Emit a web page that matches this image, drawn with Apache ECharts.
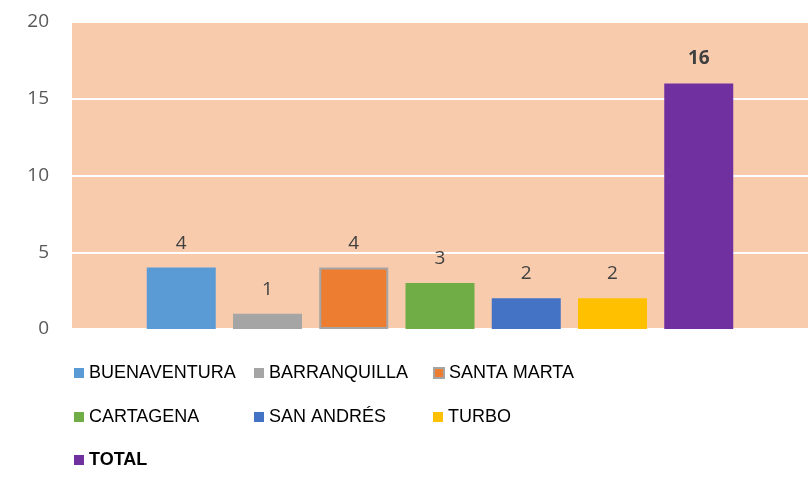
<!DOCTYPE html>
<html>
<head>
<meta charset="utf-8">
<script src="https://cdn.jsdelivr.net/npm/echarts@6/dist/echarts.min.js"></script>
<style>
  html, body { margin: 0; padding: 0; background: #fff; }
  #chart { width: 808px; height: 477px; }
</style>
</head>
<body>
<div id="chart"></div>
<script>
// datos
const categories = [''];
const seriesNames = ['BUENAVENTURA', 'BARRANQUILLA', 'SANTA MARTA', 'CARTAGENA', 'SAN ANDRÉS', 'TURBO', 'TOTAL'];
const seriesValues = [4, 1, 4, 3, 2, 2, 16];
const seriesColors = ['#5B9BD5', '#A5A5A5', '#ED7D31', '#70AD47', '#4472C4', '#FFC000', '#7030A0'];
const yTicks = [0, 5, 10, 15, 20];

const chart = echarts.init(document.getElementById('chart'));

// una leyenda por elemento: 3 columnas x 3 filas
const colLeft = [74, 254, 433];
const rowTop = [364, 408, 451];

const legends = seriesNames.map((name, i) => ({
  left: colLeft[i % 3],
  top: rowTop[Math.floor(i / 3)],
  padding: 0,
  itemWidth: 10,
  itemHeight: 10,
  icon: 'rect',
  textStyle: {
    fontFamily: 'Liberation Sans',
    fontSize: 18,
    color: '#000',
    fontWeight: name === 'TOTAL' ? 'bold' : 'normal'
  },
  data: [name]
}));

const series = seriesNames.map((name, i) => ({
  name: name,
  type: 'bar',
  data: [seriesValues[i]],
  barWidth: 69,
  barGap: '25%',
  itemStyle: name === 'SANTA MARTA'
    ? { color: seriesColors[i], borderColor: '#A5A5A5', borderWidth: 2 }
    : { color: seriesColors[i] },
  label: {
    show: true,
    position: 'top',
    distance: 15,
    fontFamily: 'Open Sans',
    fontSize: 19,
    color: '#404040',
    fontWeight: name === 'TOTAL' ? 'bold' : 'normal'
  }
}));

chart.setOption({
  animation: false,
  grid: {
    left: 72, right: -3, top: 22, bottom: 148,
    show: true, backgroundColor: '#F8CBAD', borderWidth: 0
  },
  legend: legends,
  xAxis: {
    type: 'category',
    data: categories,
    axisLine: { show: false },
    axisTick: { show: false },
    axisLabel: { show: false }
  },
  yAxis: {
    type: 'value',
    min: yTicks[0],
    max: yTicks[yTicks.length - 1],
    interval: 5,
    axisLine: { show: false },
    axisTick: { show: false },
    axisLabel: { margin: 23, fontFamily: 'Open Sans', fontSize: 19, color: '#595959' },
    splitLine: { lineStyle: { color: '#FFFFFF', width: 2 } }
  },
  series: series
});
</script>
</body>
</html>
